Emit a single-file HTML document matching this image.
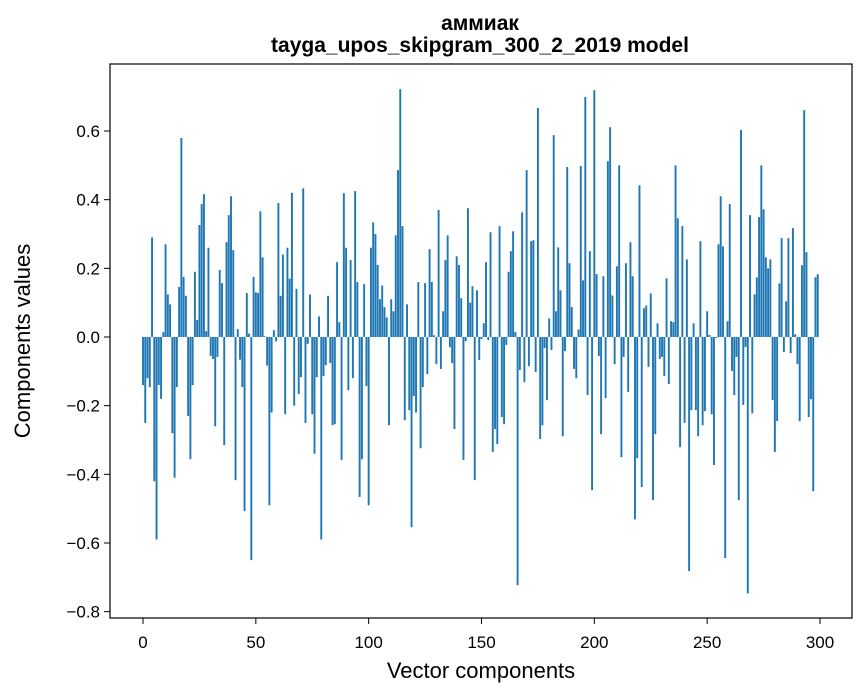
<!DOCTYPE html>
<html><head><meta charset="utf-8"><style>
html,body{margin:0;padding:0;background:#fff}
svg{display:block;font-family:"Liberation Sans","DejaVu Sans",sans-serif}
</style></head><body>
<svg id="chart" width="867" height="696" viewBox="0 0 867 696">
<text x="480" y="30" text-anchor="middle" font-size="21" font-weight="bold">аммиак</text>
<text x="480" y="52" text-anchor="middle" font-size="21" font-weight="bold">tayga_upos_skipgram_300_2_2019 model</text>
<g id="bars"></g>
<g id="xticks"></g>
<g id="yticks"></g>
<rect x="110" y="64" width="742" height="554" fill="none" stroke="#000" stroke-width="1.2"/>
<text x="481" y="678" text-anchor="middle" font-size="22">Vector components</text>
<text x="0" y="0" transform="translate(30,341) rotate(-90)" text-anchor="middle" font-size="22">Components values</text>
</svg>
<script>
const values = [
-0.14,-0.25,-0.12,-0.146,0.29,-0.42,-0.59,-0.14,-0.18,0.014,
0.27,0.124,0.095,-0.28,-0.41,-0.146,0.146,0.58,0.175,0.12,
-0.23,-0.356,-0.14,0.19,0.05,0.326,0.387,0.416,0.017,0.26,
-0.055,-0.064,-0.26,-0.058,0.195,0.157,-0.315,0.276,0.355,0.41,
0.253,-0.417,0.023,-0.066,-0.146,-0.507,0.128,0.01,-0.65,0.175,
0.13,0.128,0.366,0.232,0.002,-0.083,-0.49,-0.22,0.02,-0.013,
0.39,0.12,0.24,-0.225,0.26,0.17,0.42,-0.2,0.14,-0.166,
-0.117,0.433,-0.25,-0.02,0.124,-0.225,-0.34,-0.117,0.06,-0.59,
-0.114,-0.082,0.12,-0.076,-0.257,-0.254,0.218,0.043,-0.358,0.419,
0.26,-0.155,0.224,-0.12,0.425,0.16,-0.466,-0.356,0.154,-0.143,
-0.49,0.26,0.334,0.3,0.21,0.11,0.15,0.087,0.057,-0.257,
0.11,0.075,0.296,0.486,0.722,0.323,-0.242,0.095,-0.213,-0.554,
-0.172,-0.22,0.16,-0.324,-0.146,0.157,-0.108,0.256,0.16,0.005,
-0.079,0.37,-0.093,0.075,0.224,0.296,-0.03,-0.076,-0.268,0.235,
0.21,0.113,-0.358,-0.012,0.375,0.1,0.148,-0.417,0.136,-0.067,
-0.006,0.04,0.218,-0.009,0.305,-0.335,-0.268,-0.312,0.323,-0.233,
-0.254,-0.023,0.19,0.25,0.308,0.015,-0.723,-0.096,0.363,-0.132,
0.486,-0.085,0.279,0.282,-0.102,0.667,-0.297,-0.257,-0.032,-0.184,
0.054,-0.038,0.588,0.075,0.261,0.136,-0.289,-0.041,0.495,0.215,
0.087,-0.093,-0.12,0.022,0.498,0.165,0.699,-0.169,0.25,-0.446,
0.719,0.183,-0.055,-0.283,0.177,-0.178,0.512,0.611,0.121,-0.079,
0.206,0.5,-0.35,-0.058,0.215,-0.16,0.276,0.177,-0.531,-0.353,
0.442,-0.437,0.084,0.092,-0.087,0.127,-0.475,-0.283,0.04,-0.064,
-0.058,-0.114,0.171,-0.137,0.046,0.043,0.5,0.346,-0.321,0.323,
-0.25,0.226,-0.682,-0.213,0.04,-0.213,-0.289,0.279,-0.257,-0.216,
0.075,0.006,-0.225,-0.373,-0.003,0.27,0.41,0.264,-0.644,0.046,
0.387,-0.099,-0.169,-0.058,-0.475,0.603,-0.198,-0.029,-0.747,0.355,
-0.222,0.124,0.174,0.349,0.5,0.372,0.232,0.2,0.226,-0.184,
-0.335,-0.245,0.156,0.288,-0.044,0.104,0.288,-0.047,0.317,0.008,
-0.079,-0.245,0.209,0.661,0.247,-0.233,-0.181,-0.449,0.174,0.183
];
const xTicks = [0,50,100,150,200,250,300];
const yTicks = [-0.8,-0.6,-0.4,-0.2,0.0,0.2,0.4,0.6];
const yTickLabels = ["−0.8","−0.6","−0.4","−0.2","0.0","0.2","0.4","0.6"];

const NS = "http://www.w3.org/2000/svg";
const x0 = 143, xScale = (820 - 143) / 300;
const y0 = 337, yScale = 343.3;
function xPos(i){ return x0 + i * xScale; }
function yPos(v){ return y0 - v * yScale; }

const bars = document.getElementById('bars');
values.forEach((v, i) => {
  const r = document.createElementNS(NS, 'rect');
  const w = 0.85 * xScale;
  const top = Math.min(yPos(v), yPos(0));
  const h = Math.abs(yPos(v) - yPos(0));
  r.setAttribute('x', xPos(i) - w / 2);
  r.setAttribute('y', top);
  r.setAttribute('width', w);
  r.setAttribute('height', Math.max(h, 0.3));
  r.setAttribute('fill', '#1f77b4');
  
  
  bars.appendChild(r);
});

const xg = document.getElementById('xticks');
xTicks.forEach(t => {
  const l = document.createElementNS(NS, 'line');
  l.setAttribute('x1', xPos(t)); l.setAttribute('x2', xPos(t));
  l.setAttribute('y1', 618); l.setAttribute('y2', 624);
  l.setAttribute('stroke', '#000'); l.setAttribute('stroke-width', '1');
  
  
  xg.appendChild(l);
  const tx = document.createElementNS(NS, 'text');
  tx.setAttribute('x', xPos(t)); tx.setAttribute('y', 648);
  tx.setAttribute('text-anchor', 'middle'); tx.setAttribute('font-size', '17');
  tx.textContent = t;
  
  
  xg.appendChild(tx);
});

const yg = document.getElementById('yticks');
yTicks.forEach((t, k) => {
  const l = document.createElementNS(NS, 'line');
  l.setAttribute('x1', 104); l.setAttribute('x2', 110);
  l.setAttribute('y1', yPos(t)); l.setAttribute('y2', yPos(t));
  l.setAttribute('stroke', '#000'); l.setAttribute('stroke-width', '1');
  
  
  yg.appendChild(l);
  const tx = document.createElementNS(NS, 'text');
  tx.setAttribute('x', 100); tx.setAttribute('y', yPos(t) + 6);
  tx.setAttribute('text-anchor', 'end'); tx.setAttribute('font-size', '17');
  tx.textContent = yTickLabels[k];
  
  
  yg.appendChild(tx);
});
</script>
</body></html>
